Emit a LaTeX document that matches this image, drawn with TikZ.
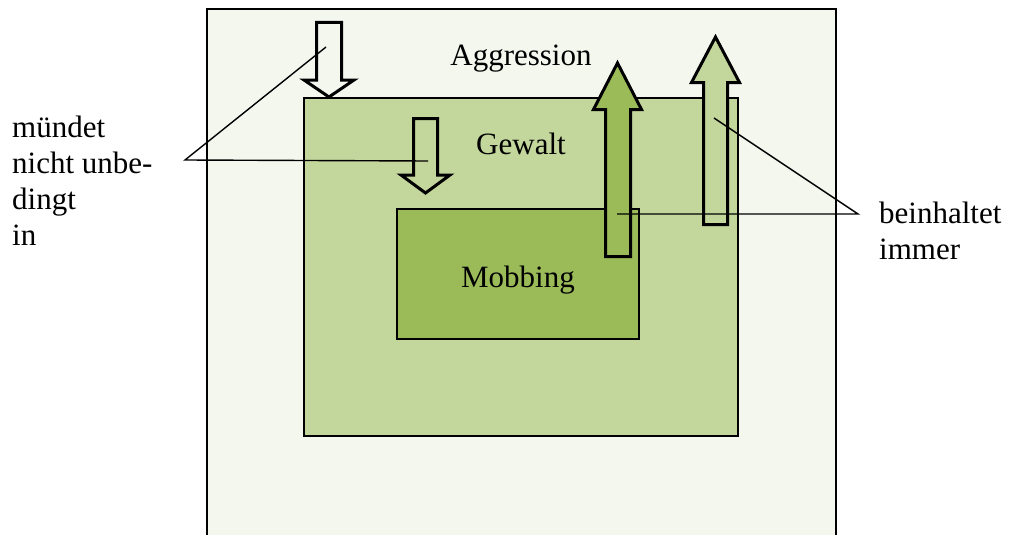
\documentclass[tikz,border=0pt]{standalone}
\usepackage{fontspec}
\setmainfont{Liberation Serif}
\definecolor{aggrfill}{HTML}{F4F7EE}
\definecolor{gewfill}{HTML}{C3D69B}
\definecolor{mobfill}{HTML}{9BBB59}
\begin{document}
\begin{tikzpicture}[x=1pt,y=-1pt,
  box/.style={draw=black, line width=1.4pt, inner sep=0pt, outer sep=0pt, anchor=north west},
  blockarrow/.style={draw=black, line width=3pt, line join=miter, miter limit=10},
  leader/.style={draw=black, line width=1.4pt},
  lbl/.style={font=\fontsize{31}{36}\selectfont, inner sep=0pt, anchor=base}]
\useasboundingbox (0,0) rectangle (1009,535);
\clip (0,0) rectangle (1009,535);
\fill[white] (0,0) rectangle (1009,535);
% boxes
\node[box, fill=aggrfill, minimum width=629pt, minimum height=560pt] (aggr) at (207,9) {};
\node[box, fill=gewfill, minimum width=434pt, minimum height=338pt] (gew) at (304,98) {};
\node[box, fill=mobfill, minimum width=242pt, minimum height=130pt] (mob) at (397,209) {};
% labels
\node[lbl] (taggr) at (521,66) {Aggression};
\node[lbl] (tgew) at (521,154) {Gewalt};
\node[lbl] (tmob) at (518,287) {Mobbing};
\node[lbl, anchor=north west, align=left] (lefttxt) at (12,116) {mündet\\nicht unbe-\\dingt\\in};
\node[lbl, anchor=north west, align=left] (righttxt) at (879,202) {beinhaltet\\immer};
% block arrows
\draw[blockarrow, fill=aggrfill] (316.5,22.5) -- (341.5,22.5) -- (341.5,80) -- (354,80) -- (329,97) -- (304,80) -- (316.5,80) -- cycle;
\draw[blockarrow, fill=gewfill] (413.5,118.5) -- (437.5,118.5) -- (437.5,175) -- (450,175) -- (425.5,193) -- (401,175) -- (413.5,175) -- cycle;
\draw[blockarrow, fill=mobfill] (605.5,256.5) -- (630.5,256.5) -- (630.5,109.5) -- (641.5,109.5) -- (617.5,63) -- (593.5,109.5) -- (605.5,109.5) -- cycle;
\draw[blockarrow, fill=gewfill] (703.5,224.5) -- (727.5,224.5) -- (727.5,82.5) -- (739.5,82.5) -- (715.5,37) -- (691.5,82.5) -- (703.5,82.5) -- cycle;
% leader lines
\coordinate (lapex) at (185,160);
\coordinate (la1) at (326,47);
\coordinate (la2) at (428,161);
\coordinate (rapex) at (858,214);
\coordinate (ra1) at (714,118);
\coordinate (ra2) at (617,214);
\draw[leader] (la1) -- (lapex) -- (la2);
\draw[leader] (ra1) -- (rapex) -- (ra2);
\end{tikzpicture}
\end{document}
